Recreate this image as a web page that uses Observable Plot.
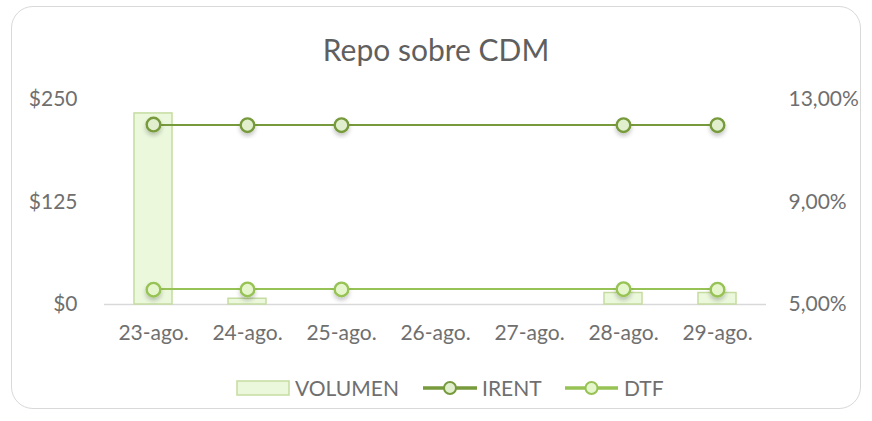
<!DOCTYPE html>
<html>
<head>
<meta charset="utf-8">
<script src="https://cdn.jsdelivr.net/npm/d3@7"></script>
<script src="https://cdn.jsdelivr.net/npm/@observablehq/plot@0.6"></script>
<style>
  html, body { margin: 0; padding: 0; background: #fff; }
  #wrap { position: relative; width: 872px; height: 421px; overflow: hidden; font-family: Lato, "Open Sans", sans-serif; }
  #frame { position: absolute; left: 11px; top: 6px; width: 848px; height: 401px; border: 1.5px solid #d9d9d9; border-radius: 22px; }
  #title { position: absolute; left: 0; width: 872px; top: 29px; text-align: center; font-size: 30px; color: #5f5f5f; line-height: 40px; }
  #chart { position: absolute; left: 0; top: 0; }
  #legend { position: absolute; left: 0; top: 370px; }
</style>
</head>
<body>
<div id="wrap">
  <div id="frame"></div>
  <div id="title">Repo sobre CDM</div>
  <div id="chart"></div>
  <div id="legend"></div>
</div>
<script>
const dates = ["23-ago.", "24-ago.", "25-ago.", "26-ago.", "27-ago.", "28-ago.", "29-ago."];
const volumen = [233, 7, 0, 0, 0, 14, 14];
const rateDates = ["23-ago.", "24-ago.", "25-ago.", "28-ago.", "29-ago."];
const irent = [12.02, 12.0, 12.0, 12.0, 12.0];
const dtf = [5.58, 5.59, 5.59, 5.6, 5.58];
const leftTicks = [0, 125, 250];
const leftLabels = ["$0", "$125", "$250"];
const rightLabels = ["5,00%", "9,00%", "13,00%"];
const seriesNames = ["VOLUMEN", "IRENT", "DTF"];

const pctMin = 5, pctMax = 13, volMax = 250;
const toY = p => (p - pctMin) / (pctMax - pctMin) * volMax;

const volData = dates.map((d, i) => ({date: d, v: volumen[i]}));
const irentData = rateDates.map((d, i) => ({date: d, y: toY(irent[i])}));
const dtfData = rateDates.map((d, i) => ({date: d, y: toY(dtf[i])}));

const cIrent = "#779a3c", cDtf = "#97c254";
const textColor = "#6f6f6f";
const fs = 21;

const chart = Plot.plot({
  width: 872,
  height: 421,
  marginTop: 99,
  marginBottom: 117,
  marginLeft: 104,
  marginRight: 106,
  style: {fontFamily: "Lato, 'Open Sans', sans-serif", fontSize: fs + "px", color: textColor, background: "transparent"},
  x: {domain: dates, paddingInner: 0.6, paddingOuter: 0.3},
  y: {domain: [0, volMax]},
  marks: [
    Plot.ruleY([0], {stroke: "#d9d9d9", strokeWidth: 1.5}),
    Plot.barY(volData, {x: "date", y: "v", fill: "#ebf8dc", stroke: "#c5dca0", strokeWidth: 1.5}),
    Plot.lineY(irentData, {x: "date", y: "y", stroke: cIrent, strokeWidth: 4}),
    Plot.dot(irentData, {x: "date", y: "y", r: 6.8, fill: "#e2efcf", stroke: cIrent, strokeWidth: 2.4}),
    Plot.lineY(dtfData, {x: "date", y: "y", stroke: cDtf, strokeWidth: 4}),
    Plot.dot(dtfData, {x: "date", y: "y", r: 6.8, fill: "#e6f6cc", stroke: cDtf, strokeWidth: 2.4}),
    Plot.axisX({tickSize: 0, tickPadding: 21, label: null, fontSize: fs}),
    Plot.axisY({anchor: "left", ticks: leftTicks, tickSize: 0, tickPadding: 27, label: null, fontSize: fs,
      tickFormat: v => leftLabels[leftTicks.indexOf(v)]}),
    Plot.axisY({anchor: "right", ticks: leftTicks, tickSize: 0, tickPadding: 22, label: null, fontSize: fs,
      tickFormat: v => rightLabels[leftTicks.indexOf(v)]})
  ]
});
document.getElementById("chart").appendChild(chart);

// soft drop shadow under the lines and markers
const svg = d3.select(chart);
const defs = svg.insert("defs", ":first-child");
const f = defs.append("filter").attr("id", "sh").attr("x", "-20%").attr("y", "-50%").attr("width", "140%").attr("height", "200%");
f.append("feDropShadow").attr("dx", 0).attr("dy", 3).attr("stdDeviation", 2).attr("flood-color", "#000").attr("flood-opacity", 0.22);
svg.selectAll("g[aria-label='line'], g[aria-label='dot']").attr("filter", "url(#sh)");

// legend
const lg = d3.select("#legend").append("svg").attr("width", 872).attr("height", 36);
const ly = 18;
lg.append("rect").attr("x", 237).attr("y", ly - 7).attr("width", 52).attr("height", 14)
  .attr("fill", "#ebf8dc").attr("stroke", "#c5dca0").attr("stroke-width", 1.5);
const items = [
  {x1: 423, x2: 477, c: cIrent, fill: "#e2efcf"},
  {x1: 565, x2: 618, c: cDtf, fill: "#e6f6cc"}
];
items.forEach(it => {
  lg.append("line").attr("x1", it.x1).attr("x2", it.x2).attr("y1", ly).attr("y2", ly).attr("stroke", it.c).attr("stroke-width", 3.5);
  lg.append("circle").attr("cx", (it.x1 + it.x2) / 2).attr("cy", ly).attr("r", 6).attr("fill", it.fill).attr("stroke", it.c).attr("stroke-width", 2);
});
const textX = [295, 482, 624];
seriesNames.forEach((n, i) => {
  lg.append("text").attr("x", textX[i]).attr("y", ly).attr("dy", "0.36em")
    .attr("font-family", "Lato, 'Open Sans', sans-serif").attr("font-size", fs).attr("fill", textColor).text(n);
});
</script>
</body>
</html>
